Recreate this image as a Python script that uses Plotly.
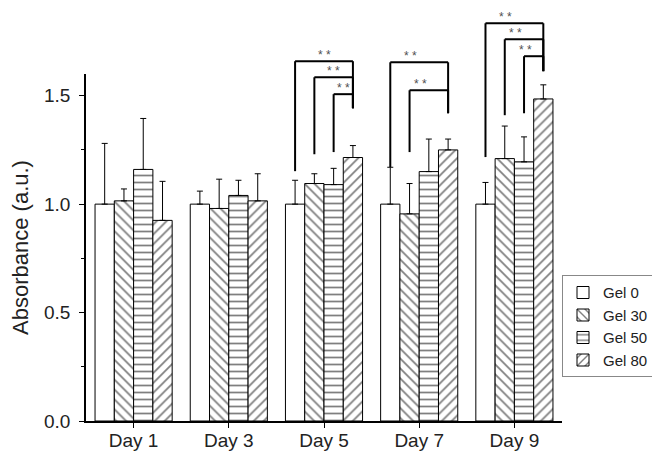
import plotly.graph_objects as go

days = ["Day 1", "Day 3", "Day 5", "Day 7", "Day 9"]
groups = ["Gel 0", "Gel 30", "Gel 50", "Gel 80"]

gel0 = [1.00, 1.00, 1.00, 1.00, 1.00]
gel0_sd = [0.28, 0.06, 0.11, 0.17, 0.10]
gel30 = [1.015, 0.98, 1.095, 0.955, 1.21]
gel30_sd = [0.055, 0.135, 0.045, 0.14, 0.15]
gel50 = [1.16, 1.04, 1.09, 1.15, 1.195]
gel50_sd = [0.235, 0.07, 0.075, 0.15, 0.115]
gel80 = [0.925, 1.015, 1.215, 1.25, 1.485]
gel80_sd = [0.18, 0.125, 0.055, 0.05, 0.065]

# significance brackets: (day index, from group, to group, bracket level, from-line bottom, to-line bottom)
brackets = [
    (2, 0, 3, 1.659, 1.152, 1.442),
    (2, 1, 3, 1.585, 1.230, 1.442),
    (2, 2, 3, 1.507, 1.240, 1.442),
    (3, 0, 3, 1.654, 1.171, 1.419),
    (3, 1, 3, 1.525, 1.240, 1.419),
    (4, 0, 3, 1.834, 1.217, 1.613),
    (4, 1, 3, 1.760, 1.410, 1.613),
    (4, 2, 3, 1.682, 1.419, 1.613),
]
sig_label = "* *"

values = [gel0, gel30, gel50, gel80]
sds = [gel0_sd, gel30_sd, gel50_sd, gel80_sd]
patterns = ["", "\\", "-", "/"]

YMAX = 1.6
BARGAP = 0.19
NB = len(groups)
ND = len(days)
FONT = "Liberation Sans, Arial"

fig = go.Figure()
for k in range(NB):
    fig.add_trace(go.Bar(
        x=days, y=values[k], name=groups[k],
        marker=dict(color="white", line=dict(color="black", width=1),
                    pattern=dict(shape=patterns[k], fgcolor="black", bgcolor="white",
                                 size=7, solidity=0.25)),
        error_y=dict(type="data", symmetric=False, array=sds[k],
                     arrayminus=[0] * ND, color="black", thickness=1, width=3),
    ))

def bar_center(day_idx, grp):
    w = (1 - BARGAP) / NB
    pos = day_idx - (1 - BARGAP) / 2 + (grp + 0.5) * w
    return (pos + 0.5) / ND  # paper x

def py(v):
    return v / YMAX

shapes = []
annotations = []
line = dict(color="black", width=2)
for (d, g1, g2, lvl, b1, b2) in brackets:
    x1 = bar_center(d, g1)
    x2 = bar_center(d, g2)
    shapes.append(dict(type="line", xref="paper", yref="paper", x0=x1, x1=x1, y0=py(b1), y1=py(lvl), line=line))
    shapes.append(dict(type="line", xref="paper", yref="paper", x0=x1, x1=x2, y0=py(lvl), y1=py(lvl), line=line))
    shapes.append(dict(type="line", xref="paper", yref="paper", x0=x2, x1=x2, y0=py(lvl), y1=py(b2), line=line))
    annotations.append(dict(xref="paper", yref="paper", x=(x1 + x2) / 2, y=py(lvl),
                            yshift=-3, text=sig_label, showarrow=False, yanchor="bottom",
                            font=dict(family=FONT, size=12, color="#505050")))

# the page body adds an 8px offset, so the figure is 8px smaller than the window
fig.update_layout(
    barmode="group", bargap=BARGAP, bargroupgap=0,
    width=652, height=443,
    margin=dict(l=78, r=98, t=66, b=30, autoexpand=False),
    plot_bgcolor="white", paper_bgcolor="white",
    font=dict(family=FONT, color="#222222"),
    shapes=shapes, annotations=annotations,
    showlegend=True,
    legend=dict(x=1.0, y=0.42, xanchor="left", yanchor="top",
                bordercolor="#888888", borderwidth=1, bgcolor="white",
                font=dict(size=15, color="#222222"), tracegroupgap=0,
                itemwidth=30),
    xaxis=dict(showline=True, linecolor="black", linewidth=1.5, ticks="outside",
               ticklen=5, tickcolor="black", tickfont=dict(size=19), range=[-0.5, 4.5],
               showgrid=False, zeroline=False, automargin=False, ticklabelstandoff=-4),
    yaxis=dict(range=[0, YMAX], dtick=0.5, tickformat=".1f", showline=True,
               linecolor="black", linewidth=1.5, ticks="outside", ticklen=5,
               tickcolor="black", tickfont=dict(size=19), showgrid=False, zeroline=False,
               automargin=False, ticklabelstandoff=5,
               minor=dict(dtick=0.25, ticks="outside", ticklen=3, tickcolor="black"),
               title=dict(text="Absorbance (a.u.)", font=dict(size=22), standoff=10)),
)

fig.write_html("out.html")
